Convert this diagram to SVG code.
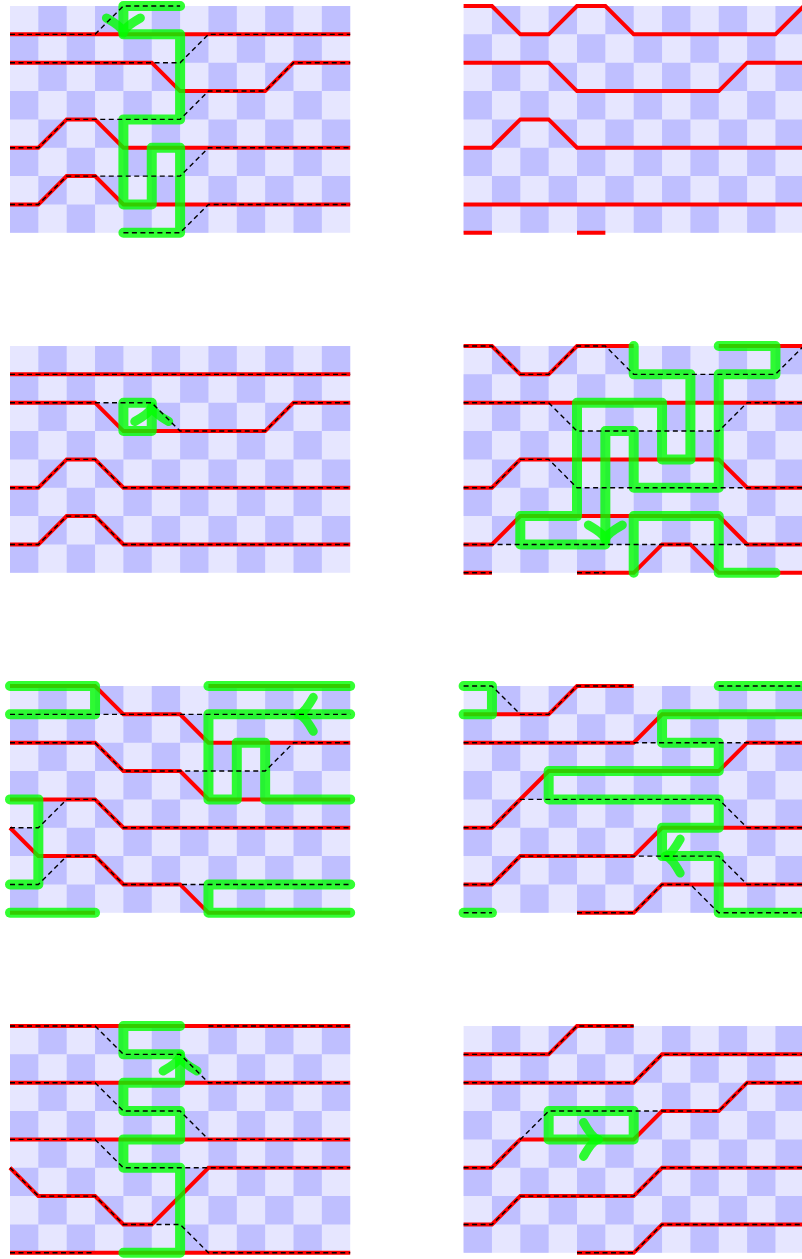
<svg xmlns="http://www.w3.org/2000/svg" xmlns:xlink="http://www.w3.org/1999/xlink" width="802" height="1259" viewBox="0 0 802 1259">
<style>
.r{fill:none;stroke:#ff0000;stroke-width:4}
.d{fill:none;stroke:#000;stroke-width:1.4;stroke-dasharray:5 3.5}
.g{fill:none;stroke:#00ff00;stroke-opacity:0.8;stroke-width:10;stroke-linecap:round;stroke-linejoin:round}
.a{fill:none;stroke:#00ff00;stroke-opacity:0.8;stroke-width:9;stroke-linecap:round;stroke-linejoin:round}
.dk{fill:none;stroke:#bfbfff;stroke-width:28.35;stroke-dasharray:28.35 28.35}
</style>
<defs>
<g id="board">
<rect x="0" y="0" width="340.2" height="226.8" fill="#e6e6ff"/>
<path class="dk" d="M28.35 14.175H340.2M0 42.525H340.2M28.35 70.875H340.2M0 99.225H340.2M28.35 127.575H340.2M0 155.925H340.2M28.35 184.275H340.2M0 212.625H340.2"/>
</g>
<path id="arr" class="a" d="M-15 -17Q-6 -1 0 0M-15 17Q-6 1 0 0"/>
</defs>

<g id="panel1" transform="translate(10,6)">
<use xlink:href="#board"/>
<g id="p1-lines">
<path class="r" d="M0 28.35H340.2"/>
<path class="r" d="M0 56.7H141.75L170.1 85.05H255.15L283.5 56.7H340.2"/>
<path class="r" d="M0 141.75H28.35L56.7 113.4H85.05L113.4 141.75H340.2"/>
<path class="r" d="M0 198.45H28.35L56.7 170.1H85.05L113.4 198.45H340.2"/>
</g>
<g id="p1-loop">
<path class="g" d="M170.1 0H113.4V28.35H170.1V113.4H113.4V198.45H141.75V141.75H170.1V226.8H113.4"/>
<use xlink:href="#arr" transform="translate(113.4,27) rotate(90)"/>
</g>
<g id="p1-dashed">
<path class="d" d="M0 28.35H85.05L113.4 0H170.1"/>
<path class="d" d="M0 56.7H170.1L198.45 28.35H340.2"/>
<path class="d" d="M0 141.75H28.35L56.7 113.4H170.1L198.45 85.05H255.15L283.5 56.7H340.2"/>
<path class="d" d="M0 198.45H28.35L56.7 170.1H170.1L198.45 141.75H340.2"/>
<path class="d" d="M113.4 226.8H170.1L198.45 198.45H340.2"/>
</g>
</g>

<g id="panel2" transform="translate(463.6,6)">
<use xlink:href="#board"/>
<g id="p2-lines">
<path class="r" d="M0 0H28.35L56.7 28.35H85.05L113.4 0H141.75L170.1 28.35H311.85L340.2 0"/>
<path class="r" d="M0 56.7H85.05L113.4 85.05H255.15L283.5 56.7H340.2"/>
<path class="r" d="M0 141.75H28.35L56.7 113.4H85.05L113.4 141.75H340.2"/>
<path class="r" d="M0 198.45H340.2"/>
<path class="r" d="M0 226.8H28.35M113.4 226.8H141.75"/>
</g>
</g>

<g id="panel3" transform="translate(10,346)">
<use xlink:href="#board"/>
<g id="p3-lines">
<path class="r" d="M0 28.35H340.2"/>
<path class="r" d="M0 56.7H85.05L113.4 85.05H255.15L283.5 56.7H340.2"/>
<path class="r" d="M0 141.75H28.35L56.7 113.4H85.05L113.4 141.75H340.2"/>
<path class="r" d="M0 198.45H28.35L56.7 170.1H85.05L113.4 198.45H340.2"/>
</g>
<g id="p3-loop">
<path class="g" d="M141.75 56.7H113.4V85.05H141.75Z"/>
<use xlink:href="#arr" transform="translate(141.75,60.5) rotate(-90)"/>
</g>
<g id="p3-dashed">
<path class="d" d="M0 28.35H340.2"/>
<path class="d" d="M0 56.7H141.75L170.1 85.05H255.15L283.5 56.7H340.2"/>
<path class="d" d="M0 141.75H28.35L56.7 113.4H85.05L113.4 141.75H340.2"/>
<path class="d" d="M0 198.45H28.35L56.7 170.1H85.05L113.4 198.45H340.2"/>
</g>
</g>

<g id="panel4" transform="translate(463.6,346)">
<use xlink:href="#board"/>
<g id="p4-lines">
<path class="r" d="M0 0H28.35L56.7 28.35H85.05L113.4 0H170.1M255.15 0H340.2"/>
<path class="r" d="M0 56.7H340.2"/>
<path class="r" d="M0 141.75H28.35L56.7 113.4H255.15L283.5 141.75H340.2"/>
<path class="r" d="M0 198.45H28.35L56.7 170.1H255.15L283.5 198.45H340.2"/>
<path class="r" d="M0 226.8H28.35M113.4 226.8H170.1L198.45 198.45H226.8L255.15 226.8H340.2"/>
</g>
<g id="p4-loop">
<path class="g" d="M255.15 0H311.85V28.35H255.15V141.75H170.1V85.05H141.75V198.45H56.7V170.1H113.4V56.7H198.45V113.4H226.8V28.35H170.1V0M170.1 226.8V170.1H255.15V226.8H311.85"/>
<use xlink:href="#arr" transform="translate(141.75,194) rotate(90)"/>
</g>
<g id="p4-dashed">
<path class="d" d="M0 0H28.35L56.7 28.35H85.05L113.4 0H141.75L170.1 28.35H311.85L340.2 0"/>
<path class="d" d="M0 56.7H85.05L113.4 85.05H255.15L283.5 56.7H340.2"/>
<path class="d" d="M0 141.75H28.35L56.7 113.4H85.05L113.4 141.75H340.2"/>
<path class="d" d="M0 198.45H340.2"/>
<path class="d" d="M0 226.8H28.35M113.4 226.8H141.75"/>
</g>
</g>

<g id="panel5" transform="translate(10,686)">
<use xlink:href="#board"/>
<g id="p5-lines">
<path class="r" d="M0 0H85.05L113.4 28.35H170.1L198.45 56.7H340.2"/>
<path class="r" d="M0 56.7H85.05L113.4 85.05H170.1L198.45 113.4H340.2"/>
<path class="r" d="M0 113.4H85.05L113.4 141.75H340.2"/>
<path class="r" d="M0 141.75L28.35 170.1H85.05L113.4 198.45H170.1L198.45 226.8H340.2"/>
<path class="r" d="M198.45 0H340.2M0 226.8H85.05"/>
</g>
<g id="p5-loop">
<path class="g" d="M0 0H85.05V28.35H0"/>
<path class="g" d="M198.45 0H340.2"/>
<path class="g" d="M340.2 28.35H198.45V113.4H226.8V56.7H255.15V113.4H340.2"/>
<path class="g" d="M0 113.4H28.35V198.45H0"/>
<path class="g" d="M0 226.8H85.05"/>
<path class="g" d="M340.2 198.45H198.45V226.8H340.2"/>
<use xlink:href="#arr" transform="translate(288.3,28.35) rotate(180)"/>
</g>
<g id="p5-dashed">
<path class="d" d="M0 28.35H340.2"/>
<path class="d" d="M0 56.7H85.05L113.4 85.05H255.15L283.5 56.7H340.2"/>
<path class="d" d="M0 141.75H28.35L56.7 113.4H85.05L113.4 141.75H340.2"/>
<path class="d" d="M0 198.45H28.35L56.7 170.1H85.05L113.4 198.45H340.2"/>
</g>
</g>

<g id="panel6" transform="translate(463.6,686)">
<use xlink:href="#board"/>
<g id="p6-lines">
<path class="r" d="M0 28.35H85.05L113.4 0H170.1"/>
<path class="r" d="M0 56.7H170.1L198.45 28.35H340.2"/>
<path class="r" d="M0 141.75H28.35L85.05 85.05H255.15L283.5 56.7H340.2"/>
<path class="r" d="M0 198.45H28.35L56.7 170.1H170.1L198.45 141.75H340.2"/>
<path class="r" d="M113.4 226.8H170.1L198.45 198.45H340.2"/>
</g>
<g id="p6-loop">
<path class="g" d="M0 0H28.35V28.35H0"/>
<path class="g" d="M255.15 0H340.2"/>
<path class="g" d="M340.2 28.35H198.45V56.7H255.15V85.05H85.05V113.4H255.15V141.75H198.45V170.1H255.15V226.8H340.2"/>
<path class="g" d="M0 226.8H28.35"/>
<use xlink:href="#arr" transform="translate(201.6,170.1) rotate(180)"/>
</g>
<g id="p6-dashed">
<path class="d" d="M0 0H28.35L56.7 28.35H85.05L113.4 0H170.1"/>
<path class="d" d="M0 56.7H340.2"/>
<path class="d" d="M0 141.75H28.35L56.7 113.4H255.15L283.5 141.75H340.2"/>
<path class="d" d="M0 198.45H28.35L56.7 170.1H255.15L283.5 198.45H340.2"/>
<path class="d" d="M0 226.8H28.35M113.4 226.8H170.1L198.45 198.45H226.8L255.15 226.8H340.2"/>
<path class="d" d="M255.15 0H340.2"/>
</g>
</g>

<g id="panel7" transform="translate(10,1026)">
<use xlink:href="#board"/>
<g id="p7-lines">
<path class="r" d="M0 0H340.2"/>
<path class="r" d="M0 56.7H340.2"/>
<path class="r" d="M0 113.4H340.2"/>
<path class="r" d="M0 141.75L28.35 170.1H85.05L113.4 198.45H141.75L198.45 141.75H340.2"/>
<path class="r" d="M0 226.8H340.2"/>
</g>
<g id="p7-loop">
<path class="g" d="M170.1 0H113.4V28.35H170.1V56.7H113.4V85.05H170.1V113.4H113.4V141.75H170.1V226.8H113.4"/>
<use xlink:href="#arr" transform="translate(170.1,30) rotate(-90)"/>
</g>
<g id="p7-dashed">
<path class="d" d="M0 0H85.05L113.4 28.35H170.1L198.45 56.7H340.2"/>
<path class="d" d="M0 56.7H85.05L113.4 85.05H170.1L198.45 113.4H340.2"/>
<path class="d" d="M0 113.4H85.05L113.4 141.75H340.2"/>
<path class="d" d="M0 141.75L28.35 170.1H85.05L113.4 198.45H170.1L198.45 226.8H340.2"/>
<path class="d" d="M198.45 0H340.2M0 226.8H85.05"/>
</g>
</g>

<g id="panel8" transform="translate(463.6,1026)">
<use xlink:href="#board"/>
<g id="p8-lines">
<path class="r" d="M0 28.35H85.05L113.4 0H170.1"/>
<path class="r" d="M0 56.7H170.1L198.45 28.35H340.2"/>
<path class="r" d="M0 141.75H28.35L56.7 113.4H170.1L198.45 85.05H255.15L283.5 56.7H340.2"/>
<path class="r" d="M0 198.45H28.35L56.7 170.1H170.1L198.45 141.75H340.2"/>
<path class="r" d="M113.4 226.8H170.1L198.45 198.45H340.2"/>
</g>
<g id="p8-loop">
<path class="g" d="M85.05 85.05H170.1V113.4H85.05Z"/>
<use xlink:href="#arr" transform="translate(134.9,113.4)"/>
</g>
<g id="p8-dashed">
<path class="d" d="M0 28.35H85.05L113.4 0H170.1"/>
<path class="d" d="M0 56.7H170.1L198.45 28.35H340.2"/>
<path class="d" d="M0 141.75H28.35L56.7 113.4L85.05 85.05H255.15L283.5 56.7H340.2"/>
<path class="d" d="M0 198.45H28.35L56.7 170.1H170.1L198.45 141.75H340.2"/>
<path class="d" d="M113.4 226.8H170.1L198.45 198.45H340.2"/>
</g>
</g>
</svg>
